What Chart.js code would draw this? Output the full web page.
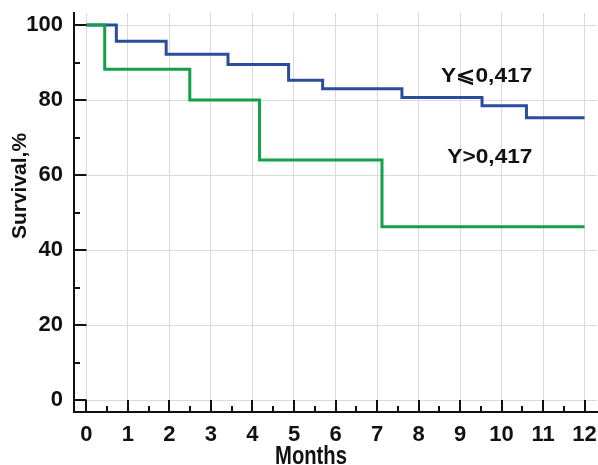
<!DOCTYPE html>
<html>
<head>
<meta charset="utf-8">
<script src="https://cdn.jsdelivr.net/npm/chart.js@4.4.1/dist/chart.umd.min.js"></script>
<style>
  html, body { margin: 0; padding: 0; background: #fff; }
  canvas { display: block; }
</style>
</head>
<body>
<canvas id="km" width="598" height="465"></canvas>
<script>
// Kaplan–Meier survival, months of follow-up
const lowTimes = [0, 0.72, 1.92, 3.41, 4.87, 5.69, 7.6, 9.53, 10.6, 12];
const lowSurvival = [100, 95.7, 92.2, 89.5, 85.3, 83.0, 80.7, 78.5, 75.3, 75.3];
const highTimes = [0, 0.44, 2.49, 4.17, 7.12, 12];
const highSurvival = [100, 88.2, 80.0, 64.0, 46.2, 46.2];

const monthTicks = [0, 1, 2, 3, 4, 5, 6, 7, 8, 9, 10, 11, 12];
const survivalTicks = [0, 20, 40, 60, 80, 100];

const groupLabels = ['Y\u2A7D0,417', 'Y>0,417'];
const xTitle = 'Months';
const yTitle = 'Survival,%';

const toPoints = (xs, ys) => xs.map((x, i) => ({ x: x, y: ys[i] }));

const FONT = '"Liberation Sans", Arial, sans-serif';

// draws text squeezed or stretched horizontally around its centre
function scaledText(ctx, text, cx, baseline, sx) {
  ctx.save();
  ctx.translate(cx, baseline);
  ctx.scale(sx, 1);
  ctx.fillText(text, 0, 0);
  ctx.restore();
}

// axis tick marks drawn inward from the axis lines, plus titles and group labels
const decorations = {
  id: 'decorations',
  afterDraw(chart) {
    const { ctx, chartArea: a, scales: { x, y } } = chart;
    ctx.save();
    ctx.strokeStyle = '#111';
    ctx.lineWidth = 2;
    const majorX = a.bottom - y.getPixelForValue(0);
    const majorY = x.getPixelForValue(0) - a.left;
    for (let v = 0; v <= 12; v += 0.5) {
      const px = Math.round(x.getPixelForValue(v));
      const len = Number.isInteger(v) ? majorX : 6;
      ctx.beginPath();
      ctx.moveTo(px, a.bottom);
      ctx.lineTo(px, a.bottom - len);
      ctx.stroke();
    }
    for (let v = 0; v <= 100; v += 10) {
      const py = Math.round(y.getPixelForValue(v));
      const len = v % 20 === 0 ? majorY : 6;
      ctx.beginPath();
      ctx.moveTo(a.left, py);
      ctx.lineTo(a.left + len, py);
      ctx.stroke();
    }

    ctx.fillStyle = '#111';
    ctx.textAlign = 'center';
    ctx.textBaseline = 'alphabetic';
    ctx.font = 'bold 21px ' + FONT;
    scaledText(ctx, groupLabels[0], x.getPixelForValue(9.64), y.getPixelForValue(84.8), 1.08);
    scaledText(ctx, groupLabels[1], x.getPixelForValue(9.72), y.getPixelForValue(63.2), 1.08);

    ctx.font = 'bold 25px ' + FONT;
    scaledText(ctx, xTitle, 311, 464, 0.81);

    ctx.translate(20, 186);
    ctx.rotate(-Math.PI / 2);
    ctx.font = 'bold 21px ' + FONT;
    ctx.textBaseline = 'middle';
    ctx.fillText(yTitle, 0, 0);
    ctx.restore();
  }
};

new Chart(document.getElementById('km'), {
  type: 'line',
  data: {
    datasets: [
      {
        label: groupLabels[0],
        data: toPoints(lowTimes, lowSurvival),
        borderColor: '#2a4c9c',
        borderWidth: 3,
        stepped: true,
        pointRadius: 0,
        fill: false,
        order: 1
      },
      {
        label: groupLabels[1],
        data: toPoints(highTimes, highSurvival),
        borderColor: '#14a04b',
        borderWidth: 3,
        stepped: true,
        pointRadius: 0,
        fill: false,
        order: 0
      }
    ]
  },
  options: {
    responsive: false,
    animation: false,
    layout: { padding: { left: 15.3, top: 13, right: 1, bottom: 7 } },
    plugins: { legend: { display: false }, tooltip: { enabled: false } },
    scales: {
      x: {
        type: 'linear',
        min: -0.3,
        max: 12.3,
        afterBuildTicks: (scale) => { scale.ticks = monthTicks.map(v => ({ value: v })); },
        grid: { color: '#dadada', lineWidth: 1, drawTicks: false },
        border: { display: true, color: '#111', width: 2 },
        ticks: { color: '#111', font: { family: FONT, size: 22, weight: 'bold', lineHeight: 2.09 }, padding: 0, maxRotation: 0 }
      },
      y: {
        type: 'linear',
        min: -3.2,
        max: 103.2,
        afterBuildTicks: (scale) => { scale.ticks = survivalTicks.map(v => ({ value: v })); },
        grid: { color: '#dadada', lineWidth: 1, drawTicks: false },
        border: { display: true, color: '#111', width: 2 },
        ticks: { color: '#111', font: { family: FONT, size: 22, weight: 'bold', lineHeight: 0.05 }, padding: 11 }
      }
    }
  },
  plugins: [decorations]
});
</script>
</body>
</html>
